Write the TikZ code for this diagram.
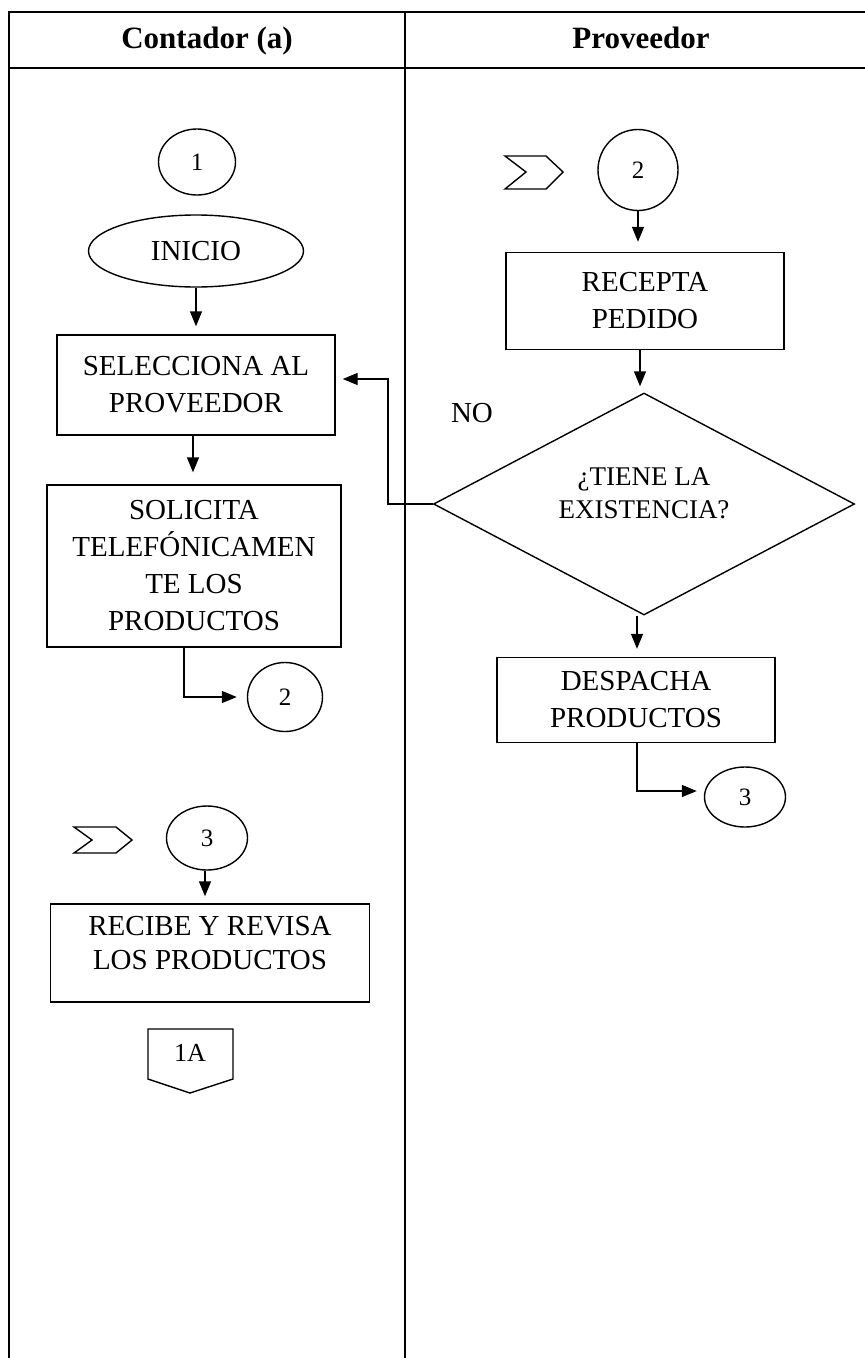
\documentclass[tikz,border=0pt]{standalone}
\usepackage{fontspec}
\setmainfont{Liberation Serif}
\usetikzlibrary{shapes.geometric,arrows.meta}
\begin{document}
\begin{tikzpicture}[x=1pt,y=-1pt,
  ln/.style={line width=1.8pt},
  stepbox/.style={draw,line width=1.4pt,rectangle,inner sep=0pt,align=center,font=\fontsize{29}{37}\selectfont},
  conn/.style={draw,line width=1.4pt,ellipse,inner sep=0pt,font=\fontsize{25}{28}\selectfont},
  shp/.style={draw,line width=1.4pt,line join=miter},
  arr/.style={line width=1.4pt,-{Triangle[length=15pt,width=12pt]}},
  txt/.style={inner sep=0pt,align=center,font=\fontsize{29}{37}\selectfont},
  dtxt/.style={inner sep=0pt,align=center,font=\fontsize{27}{33}\selectfont},
  hdr/.style={inner sep=0pt,font=\fontsize{31}{36}\selectfont\bfseries}]
\useasboundingbox (0,0) rectangle (865,1358);
\fill[white] (0,0) rectangle (865,1358);
% table
\draw[ln] (865,12) -- (9,12) -- (9,1358);
\draw[ln] (9,68) -- (865,68);
\draw[ln] (405,12) -- (405,1358);
\node[hdr,anchor=base] (h1) at (207,48) {Contador (a)};
\node[hdr,anchor=base] (h2) at (641,48) {Proveedor};
% left lane
\node[conn,minimum width=77pt,minimum height=66pt] (c1) at (197,162) {1};
\node[conn,minimum width=215pt,minimum height=72pt,font=\fontsize{29}{37}\selectfont] (inicio) at (196,251) {INICIO};
\node[stepbox,minimum width=278pt,minimum height=100pt] (selec) at (196,385) {SELECCIONA AL\\PROVEEDOR};
\node[stepbox,minimum width=294pt,minimum height=162pt] (solic) at (194,566) {SOLICITA\\TELEFÓNICAMEN\\TE LOS\\PRODUCTOS};
\node[conn,minimum width=75pt,minimum height=69pt] (c2L) at (285,697) {2};
\draw[shp] (74,827) -- (116,827) -- (132,840) -- (116,853) -- (74,853) -- (92,840) -- cycle;
\node[conn,minimum width=81pt,minimum height=64pt] (c3L) at (207,838) {3};
\node[stepbox,minimum width=319pt,minimum height=98pt] (recibe) at (210,953) {};
\node[txt,font=\fontsize{29}{34}\selectfont] (recibeT) at (210,943) {RECIBE Y REVISA\\LOS PRODUCTOS};
\draw[shp] (148,1029) -- (233,1029) -- (233,1079) -- (190,1093) -- (148,1079) -- cycle;
\node[txt,font=\fontsize{26}{30}\selectfont] (offp) at (190,1053) {1A};
% right lane
\draw[shp] (505,156) -- (546,156) -- (563,172) -- (546,189) -- (505,189) -- (526,172) -- cycle;
\node[conn,minimum width=80pt,minimum height=81pt] (c2R) at (638,170) {2};
\node[stepbox,minimum width=278pt,minimum height=97pt] (recepta) at (645,301) {RECEPTA\\PEDIDO};
\node[draw,line width=1.4pt,diamond,inner sep=0pt,minimum width=421pt,minimum height=222pt] (diam) at (644,504) {};
\node[dtxt] (diamT) at (644,493) {¿TIENE LA\\EXISTENCIA?};
\node[txt] (no) at (472,413) {NO};
\node[stepbox,minimum width=278pt,minimum height=85pt] (desp) at (636,700) {DESPACHA\\PRODUCTOS};
\node[conn,minimum width=81pt,minimum height=60pt] (c3R) at (745,797) {3};
% connectors
\draw[arr,shorten >=8pt] (inicio.south) -- (selec.north);
\draw[arr,shorten >=12pt] ([xshift=-3pt]selec.south) -- ([xshift=-3pt]selec.south |- solic.north);
\draw[arr,shorten >=10pt] (c2R.south) -- (c2R.south |- recepta.north);
\draw[arr,shorten >=6pt] ([xshift=-5pt]recepta.south) -- ([xshift=-5pt]recepta.south |- diam.north);
\draw[arr,shorten >=8pt] ([xshift=-7pt]diam.south) -- ([xshift=-7pt]diam.south |- desp.north);
\draw[arr,shorten >=7pt] ([xshift=-2pt]c3L.south) -- ([xshift=-2pt]c3L.south |- recibe.north);
\draw[arr,shorten >=7pt] (diam.west) -- ++(-45,0) |- ([yshift=6pt]selec.east);
\draw[arr,shorten >=10pt] ([xshift=-10pt]solic.south) |- (c2L.west);
\draw[arr,shorten >=7pt] ([xshift=1pt]desp.south) |- ([yshift=6pt]c3R.west);
\end{tikzpicture}
\end{document}
